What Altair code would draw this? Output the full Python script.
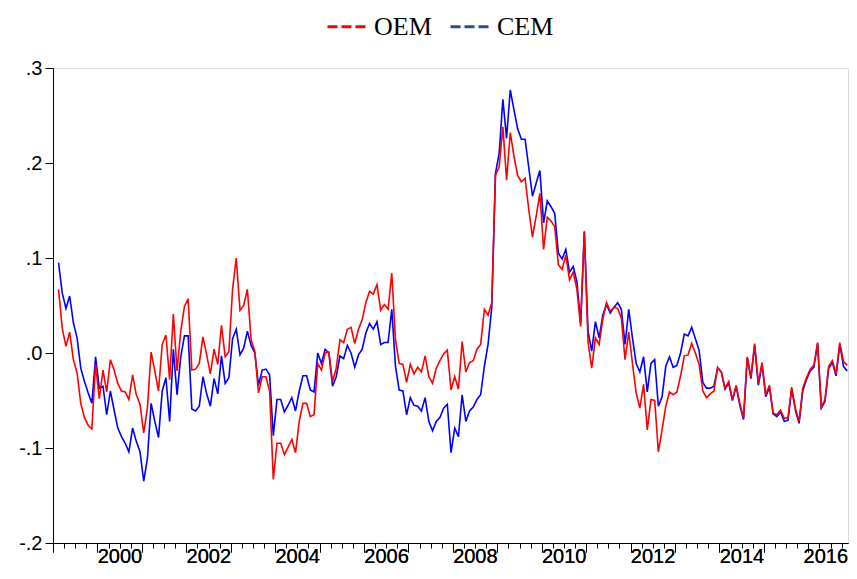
import altair as alt
import pandas as pd

# Monthly observations, Feb 1999 - Nov 2016
START_YEAR = 1999
START_MONTH = 2

oem = [
    0.067, 0.026, 0.007, 0.022, -0.007, -0.021, -0.053, -0.068, -0.076, -0.080,
    -0.012, -0.048, -0.018, -0.041, -0.007, -0.018, -0.032, -0.040, -0.041, -0.049,
    -0.023, -0.044, -0.054, -0.084, -0.058, 0.001, -0.019, -0.040, 0.009, 0.019,
    -0.028, 0.041, -0.019, 0.023, 0.049, 0.057, -0.018, -0.017, -0.011, 0.017,
    -0.002, -0.022, 0.004, -0.012, 0.029, -0.004, 0.001, 0.067, 0.100, 0.045,
    0.050, 0.067, 0.014, 0.002, -0.042, -0.025, -0.025, -0.040, -0.133, -0.095,
    -0.095, -0.107, -0.099, -0.091, -0.105, -0.072, -0.053, -0.053, -0.067, -0.065,
    -0.011, -0.018, 0.000, 0.001, -0.030, -0.016, 0.014, 0.011, 0.025, 0.027,
    0.010, 0.025, 0.035, 0.053, 0.065, 0.062, 0.072, 0.045, 0.051, 0.046,
    0.084, 0.014, -0.011, -0.012, -0.031, -0.012, -0.022, -0.015, -0.020, -0.003,
    -0.025, -0.032, -0.016, -0.008, -0.001, 0.003, -0.039, -0.025, -0.038, 0.012,
    -0.020, -0.010, -0.008, 0.004, 0.009, 0.046, 0.040, 0.053, 0.187, 0.196,
    0.238, 0.182, 0.232, 0.207, 0.187, 0.180, 0.184, 0.151, 0.122, 0.144,
    0.168, 0.109, 0.143, 0.139, 0.133, 0.093, 0.088, 0.103, 0.077, 0.085,
    0.067, 0.028, 0.127, 0.012, -0.016, 0.016, 0.009, 0.036, 0.053, 0.044,
    0.048, 0.047, 0.037, -0.007, 0.022, -0.011, -0.042, -0.058, -0.033, -0.081,
    -0.049, -0.050, -0.104, -0.081, -0.056, -0.041, -0.044, -0.041, -0.024, -0.003,
    -0.002, 0.010, 0.000, -0.012, -0.040, -0.047, -0.043, -0.040, -0.015, -0.020,
    -0.037, -0.030, -0.049, -0.034, -0.053, -0.068, -0.004, -0.025, 0.010, -0.032,
    -0.010, -0.044, -0.034, -0.063, -0.065, -0.060, -0.069, -0.068, -0.036, -0.058,
    -0.072, -0.037, -0.026, -0.017, -0.013, 0.011, -0.057, -0.049, -0.014, -0.008,
    -0.022, 0.011, -0.009, -0.013,
]

cem = [
    0.095, 0.063, 0.047, 0.060, 0.032, 0.016, -0.016, -0.030, -0.042, -0.053,
    -0.004, -0.037, -0.035, -0.065, -0.040, -0.060, -0.079, -0.088, -0.095, -0.104,
    -0.079, -0.093, -0.104, -0.135, -0.111, -0.053, -0.072, -0.089, -0.040, -0.026,
    -0.072, 0.004, -0.044, -0.004, 0.018, 0.018, -0.059, -0.061, -0.056, -0.025,
    -0.043, -0.056, -0.027, -0.043, -0.003, -0.032, -0.026, 0.015, 0.025, -0.002,
    0.005, 0.023, 0.008, 0.000, -0.034, -0.018, -0.017, -0.023, -0.087, -0.049,
    -0.049, -0.062, -0.055, -0.047, -0.061, -0.040, -0.024, -0.024, -0.039, -0.041,
    0.000, -0.011, 0.004, 0.000, -0.035, -0.025, -0.003, -0.006, 0.008, 0.000,
    -0.015, -0.002, 0.004, 0.021, 0.031, 0.025, 0.033, 0.009, 0.011, 0.011,
    0.046, -0.014, -0.039, -0.040, -0.065, -0.047, -0.055, -0.056, -0.061, -0.047,
    -0.072, -0.082, -0.072, -0.068, -0.058, -0.054, -0.105, -0.079, -0.088, -0.044,
    -0.072, -0.061, -0.057, -0.049, -0.044, -0.014, 0.009, 0.048, 0.189, 0.210,
    0.267, 0.226, 0.277, 0.256, 0.236, 0.225, 0.225, 0.195, 0.165, 0.179,
    0.192, 0.137, 0.160, 0.154, 0.147, 0.105, 0.099, 0.109, 0.085, 0.091,
    0.075, 0.031, 0.128, 0.023, 0.002, 0.033, 0.016, 0.040, 0.051, 0.042,
    0.048, 0.053, 0.046, 0.009, 0.046, 0.016, -0.011, -0.020, -0.004, -0.041,
    -0.011, -0.007, -0.056, -0.046, -0.014, -0.004, -0.015, -0.013, 0.000, 0.020,
    0.018, 0.027, 0.015, 0.003, -0.031, -0.037, -0.037, -0.035, -0.016, -0.020,
    -0.038, -0.032, -0.050, -0.035, -0.055, -0.070, -0.005, -0.027, 0.008, -0.034,
    -0.012, -0.046, -0.036, -0.064, -0.067, -0.062, -0.072, -0.071, -0.038, -0.060,
    -0.074, -0.040, -0.028, -0.019, -0.015, 0.010, -0.058, -0.051, -0.016, -0.010,
    -0.024, 0.009, -0.014, -0.019,
]

series_names = ["OEM", "CEM"]
series_colors = ["#FF0000", "#0000FF"]
legend_colors = ["#FF0000", "#264F87"]
year_ticks = list(range(1999, 2017))
quarter_ticks = [y + q / 4 for y in range(1999, 2017) for q in (1, 2, 3)]
y_ticks = [-0.2, -0.1, 0.0, 0.1, 0.2, 0.3]

n = len(oem)
t = [START_YEAR + (START_MONTH - 1 + i + 0.5) / 12 for i in range(n)]
df = pd.DataFrame({
    "t": t * 2,
    "value": oem + cem,
    "series": ["OEM"] * n + ["CEM"] * len(cem),
})

x_scale = alt.Scale(domain=[1999.0, 2016.893], nice=False, zero=False)
y_scale = alt.Scale(domain=[-0.2, 0.3], nice=False, zero=False)

major_axis = alt.Axis(
    values=year_ticks, orient="bottom", grid=False, title=None,
    labelExpr="datum.value % 2 == 0 ? format(datum.value, 'd') : ''",
    labelOffset={"condition": {"test": "datum.value == 2016", "value": 17}, "value": 22},
    labelFlush=False, labelOverlap=False,
    tickSize=9, tickColor="black", domainColor="black",
    labelFont="Liberation Sans", labelFontSize=20, labelColor="black", labelPadding=-6,
)
minor_axis = alt.Axis(
    values=quarter_ticks, orient="bottom", grid=False, title=None,
    labels=False, domain=False, tickSize=5, tickColor="black",
)
y_axis = alt.Axis(
    values=y_ticks, grid=False, title=None,
    labelExpr="(datum.value < 0 ? '-' : '') + '.' + format(abs(datum.value) * 10, '.0f')",
    tickSize=8, tickColor="black", domainColor="black",
    labelFont="Liberation Sans", labelFontSize=20, labelColor="black", labelPadding=3,
)

base = alt.Chart(df)

blue = base.transform_filter("datum.series == 'CEM'").mark_line(
    strokeWidth=1.6, color=series_colors[1]
).encode(
    x=alt.X("t:Q", scale=x_scale, axis=major_axis),
    y=alt.Y("value:Q", scale=y_scale, axis=y_axis),
)
red = base.transform_filter("datum.series == 'OEM'").mark_line(
    strokeWidth=1.6, color=series_colors[0]
).encode(
    x=alt.X("t:Q", scale=x_scale, axis=major_axis),
    y=alt.Y("value:Q", scale=y_scale, axis=y_axis),
)

legend_layer = base.transform_filter("false").mark_line(strokeWidth=3).encode(
    x=alt.X("t:Q", scale=x_scale, axis=minor_axis),
    y=alt.Y("value:Q", scale=y_scale, axis=y_axis),
    color=alt.Color(
        "series:N",
        scale=alt.Scale(domain=series_names, range=legend_colors),
        legend=alt.Legend(
            title=None, orient="none", legendX=273, legendY=-62,
            direction="horizontal", symbolType="stroke", symbolSize=1444,
            symbolStrokeWidth=3, symbolDash=[10, 4], labelFont="Liberation Serif",
            labelFontSize=26, labelColor="black", labelOffset=7, columnPadding=12,
            padding=0,
        ),
    ),
)

chart = alt.layer(blue, red, legend_layer).resolve_axis(x="independent").properties(
    width=795, height=475,
    autosize=alt.AutoSizeParams(type="none"),
    padding={"left": 45, "top": 60, "right": 1, "bottom": 27},
).configure_view(stroke="black", strokeWidth=1).configure(background="white")

chart.save("out.html", embed_options={"renderer": "svg", "actions": False})
